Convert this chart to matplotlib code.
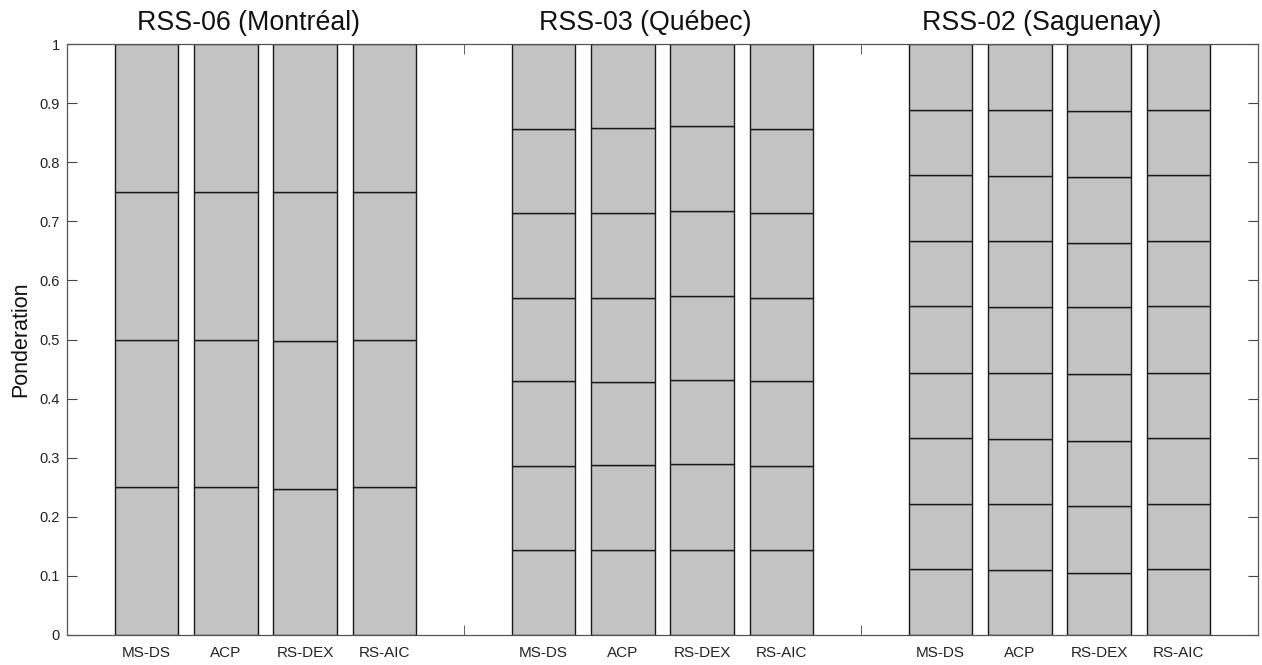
import matplotlib
matplotlib.use("Agg")
import matplotlib.pyplot as plt
import numpy as np

plt.rcParams['font.family'] = ['Liberation Sans', 'DejaVu Sans']

regions = ["RSS-06 (Montréal)", "RSS-03 (Québec)", "RSS-02 (Saguenay)"]
methods = ["MS-DS", "ACP", "RS-DEX", "RS-AIC"]

# cumulative boundaries (weights stacked) per region, per method
montreal_bounds = {
    "MS-DS": [0.250, 0.500, 0.750, 1.0],
    "ACP": [0.250, 0.500, 0.750, 1.0],
    "RS-DEX": [0.247, 0.498, 0.749, 1.0],
    "RS-AIC": [0.250, 0.500, 0.750, 1.0],
}
quebec_bounds = {
    "MS-DS": [0.143, 0.286, 0.429, 0.571, 0.714, 0.857, 1.0],
    "ACP": [0.143, 0.287, 0.428, 0.571, 0.714, 0.858, 1.0],
    "RS-DEX": [0.143, 0.289, 0.432, 0.573, 0.718, 0.862, 1.0],
    "RS-AIC": [0.143, 0.286, 0.429, 0.571, 0.714, 0.857, 1.0],
}
saguenay_bounds = {
    "MS-DS": [0.111, 0.222, 0.333, 0.444, 0.556, 0.667, 0.778, 0.889, 1.0],
    "ACP": [0.110, 0.222, 0.332, 0.443, 0.555, 0.666, 0.777, 0.888, 1.0],
    "RS-DEX": [0.105, 0.219, 0.329, 0.441, 0.555, 0.663, 0.775, 0.887, 1.0],
    "RS-AIC": [0.111, 0.222, 0.333, 0.444, 0.556, 0.667, 0.778, 0.889, 1.0],
}
all_bounds = [montreal_bounds, quebec_bounds, saguenay_bounds]

fig = plt.figure(figsize=(12.62, 6.65), dpi=100)
ax = fig.add_axes([67 / 1262, 30 / 665, (1258 - 67) / 1262, 591 / 665])

fill = "#c3c3c3"
edge = "#1a1a1a"
label_pos = []
label_txt = []
for g, bounds in enumerate(all_bounds):
    for i, m in enumerate(methods):
        x = 5 * g + i + 1
        cum = np.array(bounds[m])
        bottoms = np.concatenate([[0.0], cum[:-1]])
        heights = cum - bottoms
        ax.bar([x] * len(heights), heights, bottom=bottoms, width=0.8,
               color=fill, edgecolor=edge, linewidth=1.0)
        label_pos.append(x)
        label_txt.append(m)
    ax.text(5 * g + 2.28, 1.036, regions[g], ha="center", va="center",
            fontsize=19.3, color="#111111")

ax.set_xlim(0, 15)
ax.set_ylim(0, 1)
ax.set_yticks(np.arange(0, 1.01, 0.1))
ax.set_yticklabels(["0", "0.1", "0.2", "0.3", "0.4", "0.5", "0.6", "0.7", "0.8", "0.9", "1"])
ax.set_xticks(label_pos)
ax.set_xticklabels(label_txt)
ax.set_xticks([5, 10], minor=True)
ax.tick_params(axis="x", which="major", length=0, labelsize=11, pad=8, colors="#222222")
ax.tick_params(axis="x", which="minor", length=7, direction="in", top=True, bottom=True, color="#444444")
ax.tick_params(axis="y", which="major", length=7, direction="in", left=True, right=True,
               labelsize=10.5, pad=5, color="#444444", labelcolor="#222222")
for s in ax.spines.values():
    s.set_color("#555555")
    s.set_linewidth(0.9)
ax.set_ylabel("Ponderation", fontsize=15.5, color="#111111", labelpad=6)

fig.savefig("out.png", dpi=100)
